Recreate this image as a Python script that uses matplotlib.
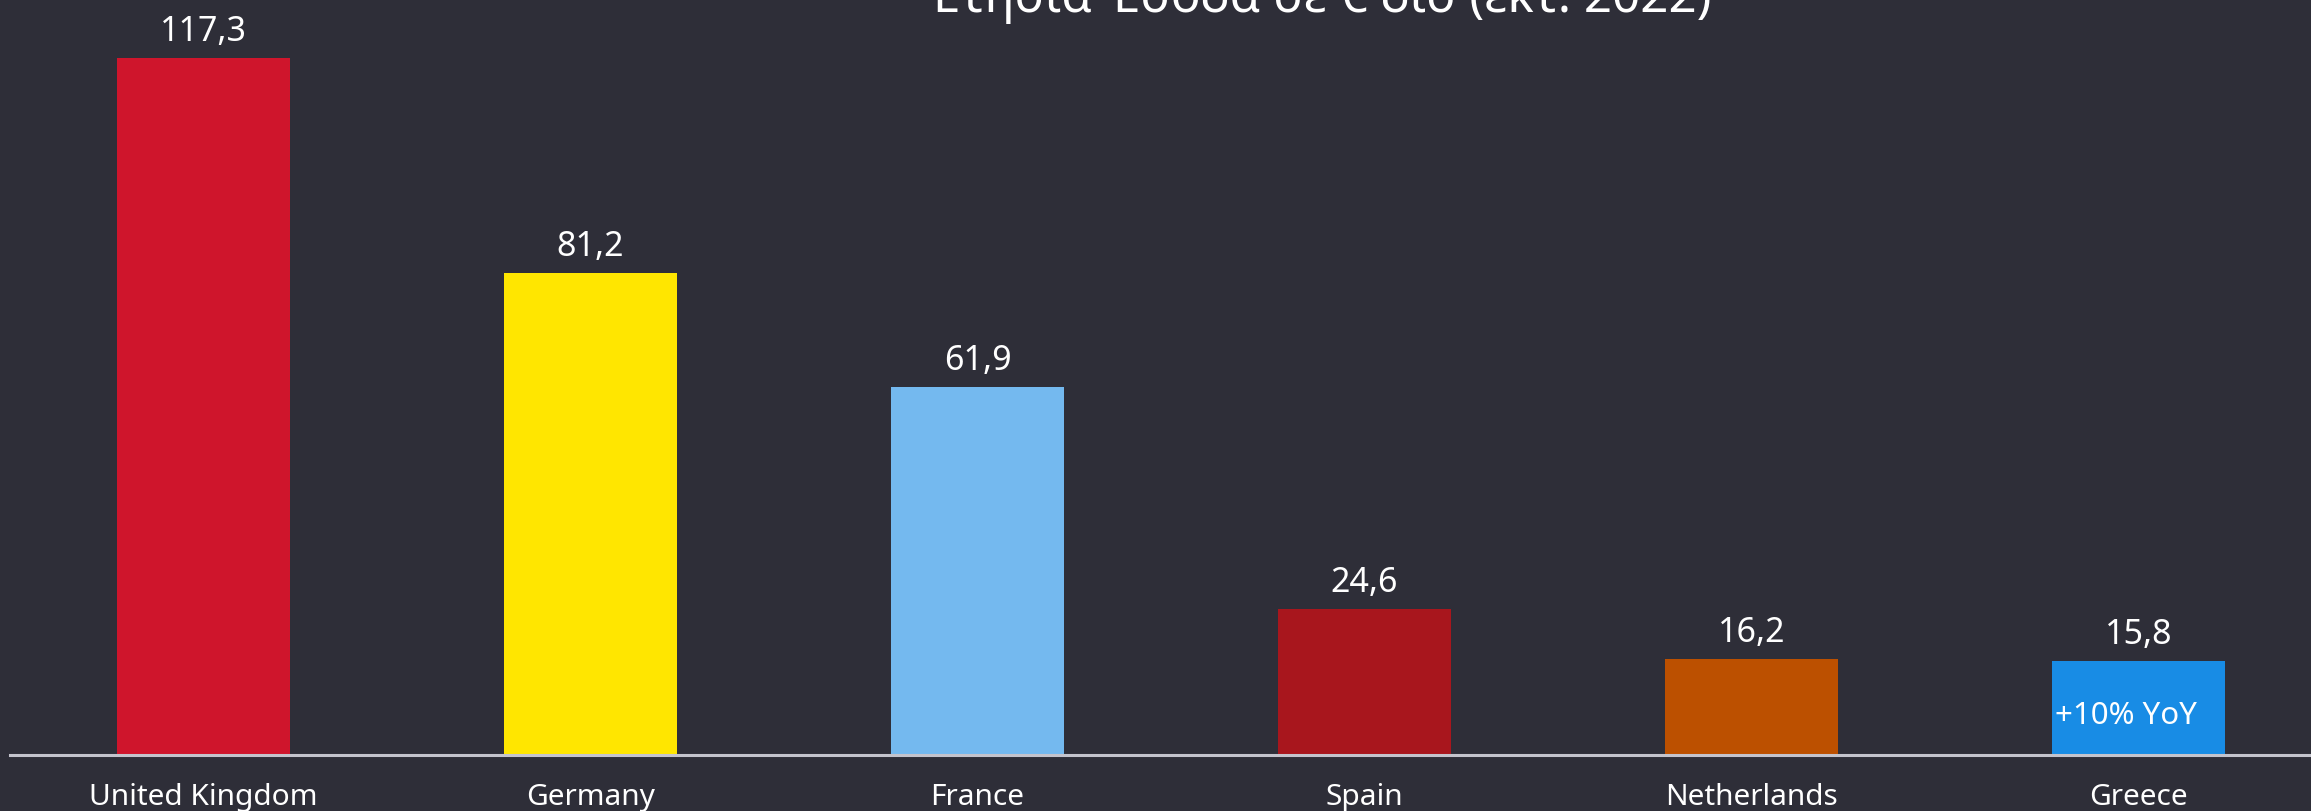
import matplotlib

matplotlib.use("Agg")
import matplotlib.pyplot as plt

countries = ["United Kingdom", "Germany", "France", "Spain", "Netherlands", "Greece"]
revenue = [117.3, 81.2, 61.9, 24.6, 16.2, 15.8]
value_labels = ["117,3", "81,2", "61,9", "24,6", "16,2", "15,8"]
bar_colors = ["#CF152C", "#FFE600", "#74B9EF", "#A8161D", "#BC5000", "#188CE5"]
title = "Ετήσια Έσοδα σε € δισ (εκτ. 2022)"
greece_note = "+10% YoY"

BG = "#2E2E38"
W, H = 2311, 812

plt.rcParams["font.family"] = ["Noto Sans", "DejaVu Sans"]

fig = plt.figure(figsize=(W / 100, H / 100), dpi=100, facecolor=BG)
# axes runs to the top edge; the title sits half outside the canvas, as in the source
ax = fig.add_axes([10 / W, 56 / H, 2301 / W, 1 - 56 / H])
ax.set_facecolor(BG)

xs = list(range(len(countries)))
bar_w = 0.445
ax.bar(xs, revenue, width=bar_w, color=bar_colors, zorder=2)

for x, v, lab in zip(xs, revenue, value_labels):
  ax.annotate(lab, (x, v), xytext=(0, 13), textcoords="offset points",
              ha="center", va="baseline", color="white", fontsize=24.5)

ax.annotate(greece_note, (xs[-1] - bar_w / 2, 0), xytext=(2, 23),
            textcoords="offset points", ha="left", va="baseline",
            color="white", fontsize=22.5)

ax.set_xlim(-0.5, 5.446)
ax.set_ylim(0, 127.3)
ax.set_yticks([])
ax.set_xticks(xs)
ax.set_xticklabels(countries, color="white", fontsize=21.5)
ax.tick_params(axis="x", length=0, pad=19.5)
for side in ("top", "right", "left"):
  ax.spines[side].set_visible(False)
ax.spines["bottom"].set_color("#C4C4CD")
ax.spines["bottom"].set_linewidth(2.2)
ax.spines["bottom"].set_zorder(3)

fig.text(1322 / W, 1 - 12 / H, title, ha="center", va="baseline",
         color="white", fontsize=35.5)

fig.savefig("out.png", dpi=100, facecolor=BG)
